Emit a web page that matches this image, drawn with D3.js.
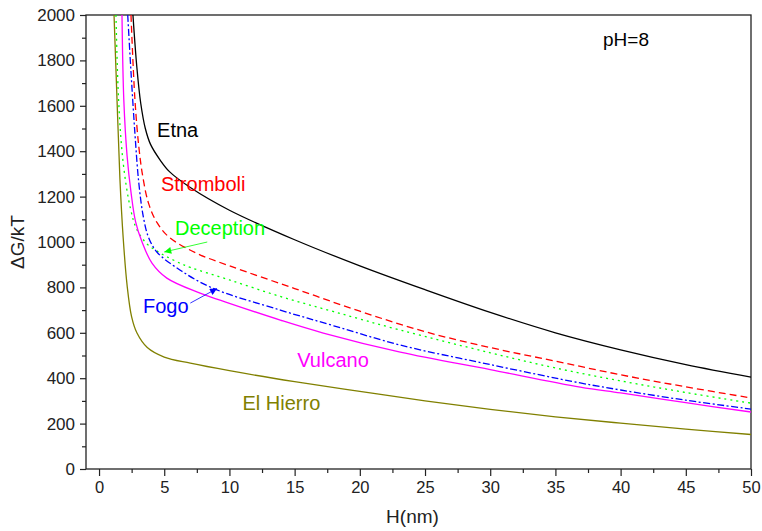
<!DOCTYPE html>
<html>
<head>
<meta charset="utf-8">
<script src="https://cdn.jsdelivr.net/npm/d3@7"></script>
<style>
  body { margin: 0; background: #fff; }
  text { font-family: "Liberation Sans", Arial, sans-serif; }
</style>
</head>
<body>
<svg id="chart"></svg>
<script>
// curves: [H (nm), dG/kT]
const etna = [[2.6, 2000], [2.9, 1770], [3.2, 1610], [3.55, 1500], [3.95, 1430], [4.7, 1360], [5.4, 1310], [7, 1240], [10, 1140], [15, 1010], [20, 895], [25, 790], [30, 690], [35, 600], [40, 525], [45, 460], [50, 405]];
const stromboli = [[2.45, 2000], [2.75, 1630], [3.05, 1420], [3.35, 1290], [3.8, 1170], [4.45, 1085], [5.4, 1020], [7.5, 950], [10, 895], [15, 795], [20, 695], [25, 605], [30, 535], [35, 475], [40, 415], [45, 362], [50, 313]];
const deception = [[1.3, 2000], [1.5, 1625], [1.85, 1350], [2.4, 1150], [2.9, 1055], [3.7, 990], [4.45, 960], [5.2, 935], [6.2, 907], [7, 888], [10, 833], [13.9, 760], [18, 693], [23.1, 612], [30, 512], [35, 445], [40, 388], [45, 337], [50, 290]];
const fogo = [[2.2, 2000], [2.45, 1750], [2.75, 1480], [3.05, 1260], [3.4, 1110], [3.8, 1020], [4.45, 955], [6.2, 877], [8.7, 797], [13.9, 700], [18, 631], [23.1, 546], [30, 460], [36.9, 379], [40, 348], [45, 303], [50, 264]];
const vulcano = [[1.76, 2000], [1.9, 1625], [2.15, 1380], [2.45, 1220], [2.8, 1090], [3.3, 1000], [4.06, 907], [5.2, 841], [7.75, 775], [10, 730], [13.9, 656], [17.2, 599], [23.1, 515], [30, 438], [36.9, 361], [40, 335], [45, 292], [50, 251]];
const elHierro = [[1.15, 2000], [1.38, 1625], [1.6, 1280], [1.85, 1020], [2.15, 810], [2.5, 670], [2.9, 600], [3.7, 535], [5, 493], [7, 466], [10, 433], [15, 385], [20, 342], [25, 300], [30, 263], [35, 230], [40, 202], [45, 176], [50, 152]];

const seriesNames = ["Etna", "Stromboli", "Deception", "Fogo", "Vulcano", "El Hierro"];
const seriesData = [etna, stromboli, deception, fogo, vulcano, elHierro];
const seriesColors = ["#000000", "#ff0000", "#00ff00", "#0000ff", "#ff00ff", "#808000"];
const seriesDash = [null, "7,4", "2,4", "7,2.5,2,2.5", null, null];

// label anchor points in data units
const labelPos = [[4.45, 1463], [4.75, 1225], [5.83, 1031], [3.37, 687], [15.2, 449], [11.0, 260]];
// annotation arrows: [from, to]
const arrowDeception = [[8.3, 1000], [5.0, 956]];
const arrowFogo = [[7.0, 731], [9.05, 795]];

const xTicks = [0, 5, 10, 15, 20, 25, 30, 35, 40, 45, 50];
const yTicks = [0, 200, 400, 600, 800, 1000, 1200, 1400, 1600, 1800, 2000];

var margin = { top: 15, right: 11, bottom: 62, left: 86 },
  width = 762 - margin.left - margin.right,
  height = 531 - margin.top - margin.bottom;

var svg = d3.select("#chart")
  .attr("width", width + margin.left + margin.right)
  .attr("height", height + margin.top + margin.bottom)
  .append("g")
  .attr("transform", "translate(" + margin.left + "," + margin.top + ")");

const x = d3.scaleLinear().domain([-1, 50]).range([0, width]);
const y = d3.scaleLinear().domain([0, 2000]).range([height, 0]);

// minor ticks
const xMinor = d3.range(2.5, 50, 5);
const yMinor = d3.range(100, 2000, 200);

svg.append("g")
  .attr("transform", `translate(0, ${height})`)
  .call(d3.axisBottom(x).tickValues(xMinor).tickSize(4).tickFormat(""))
  .call(g => g.select(".domain").remove());
svg.append("g")
  .call(d3.axisLeft(y).tickValues(yMinor).tickSize(4).tickFormat(""))
  .call(g => g.select(".domain").remove());

// major ticks
const xAxis = svg.append("g")
  .attr("transform", `translate(0, ${height})`)
  .call(d3.axisBottom(x).tickValues(xTicks).tickSize(7).tickPadding(5).tickFormat(d3.format("d")))
xAxis.selectAll("text").style("font-size", "16.5px").attr("fill", "#222");
xAxis.select(".domain").remove();

const yAxis = svg.append("g")
  .call(d3.axisLeft(y).tickValues(yTicks).tickSize(6).tickPadding(5).tickFormat(d3.format("d")))
yAxis.selectAll("text").style("font-size", "17px").attr("fill", "#222");
yAxis.select(".domain").remove();
svg.selectAll(".tick line").attr("stroke", "#222").attr("stroke-width", 1.2);

// frame
svg.append("rect")
  .attr("x", 0).attr("y", 0)
  .attr("width", width).attr("height", height)
  .attr("fill", "none").attr("stroke", "#222").attr("stroke-width", 1.3);

// axis labels
svg.append("text")
  .attr("x", width / 2 - 6)
  .attr("y", height + 54)
  .style("text-anchor", "middle")
  .style("font-size", "19px")
  .attr("fill", "#222")
  .text("H(nm)");

svg.append("text")
  .attr("transform", "rotate(-90)")
  .attr("x", -height / 2)
  .attr("y", -62)
  .style("text-anchor", "middle")
  .style("font-size", "19px")
  .attr("fill", "#222")
  .text("ΔG/kT");

// clip the curves to the plot
svg.append("defs").append("clipPath")
  .attr("id", "clip")
  .append("rect")
  .attr("width", width)
  .attr("height", height);

const line = d3.line()
  .x(d => x(d[0]))
  .y(d => y(d[1]))
  .curve(d3.curveCatmullRom.alpha(0.5));

svg.append("g").attr("clip-path", "url(#clip)")
  .selectAll("path")
  .data(seriesData)
  .join("path")
  .attr("fill", "none")
  .attr("stroke", (d, i) => seriesColors[i])
  .attr("stroke-width", 1.3)
  .attr("stroke-dasharray", (d, i) => seriesDash[i])
  .attr("d", line);

// curve labels
svg.selectAll("text.curveLabel")
  .data(seriesNames)
  .join("text")
  .attr("class", "curveLabel")
  .attr("x", (d, i) => x(labelPos[i][0]))
  .attr("y", (d, i) => y(labelPos[i][1]))
  .attr("fill", (d, i) => seriesColors[i])
  .style("font-size", "20px")
  .text(d => d);

svg.append("text")
  .attr("x", x(38.65))
  .attr("y", y(1863))
  .style("font-size", "19px")
  .attr("fill", "#000")
  .text("pH=8");

// arrows
const defs = svg.select("defs");
[["arrowG", "#00ff00"], ["arrowB", "#0000ff"]].forEach(function (a) {
  defs.append("marker")
    .attr("id", a[0])
    .attr("viewBox", "0 0 10 10")
    .attr("refX", 10).attr("refY", 5)
    .attr("markerWidth", 10).attr("markerHeight", 7)
    .attr("markerUnits", "userSpaceOnUse")
    .attr("orient", "auto")
    .append("path")
    .attr("d", "M0,0L10,5L0,10z")
    .attr("fill", a[1]);
});

svg.append("line")
  .attr("x1", x(arrowDeception[0][0])).attr("y1", y(arrowDeception[0][1]))
  .attr("x2", x(arrowDeception[1][0])).attr("y2", y(arrowDeception[1][1]))
  .attr("stroke", "#00ff00").attr("stroke-width", 0.8)
  .attr("marker-end", "url(#arrowG)");

svg.append("line")
  .attr("x1", x(arrowFogo[0][0])).attr("y1", y(arrowFogo[0][1]))
  .attr("x2", x(arrowFogo[1][0])).attr("y2", y(arrowFogo[1][1]))
  .attr("stroke", "#0000ff").attr("stroke-width", 0.8)
  .attr("marker-end", "url(#arrowB)");
</script>
</body>
</html>
